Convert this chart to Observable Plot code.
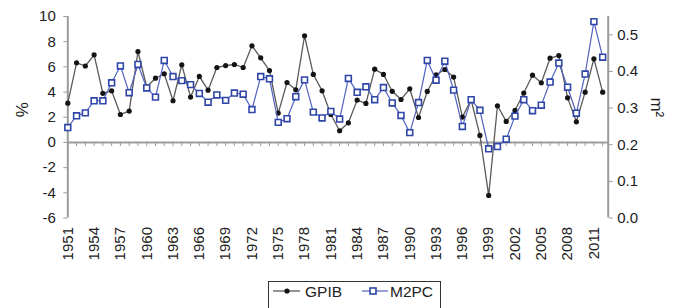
<!DOCTYPE html>
<html><head><meta charset="utf-8">
<script src="https://cdn.jsdelivr.net/npm/d3@7"></script>
<script src="https://cdn.jsdelivr.net/npm/@observablehq/plot@0.6"></script>
<style>
body{margin:0;background:#fff;font-family:"Liberation Sans",Arial,sans-serif;}
#wrap{position:relative;width:673px;height:308px;overflow:hidden;}
#legend{position:absolute;left:268px;top:281px;}
</style></head><body><div id="wrap"><div id="chart"></div><div id="legend"></div></div>
<script>
const years = [1951,1952,1953,1954,1955,1956,1957,1958,1959,1960,1961,1962,1963,1964,1965,1966,1967,1968,1969,1970,
1971,1972,1973,1974,1975,1976,1977,1978,1979,1980,1981,1982,1983,1984,1985,1986,1987,1988,1989,1990,
1991,1992,1993,1994,1995,1996,1997,1998,1999,2000,2001,2002,2003,2004,2005,2006,2007,2008,2009,2010,2011,2012];
const gpib = [3.12,6.32,6.07,6.96,3.90,4.10,2.22,2.49,7.22,4.40,5.10,5.45,3.31,6.17,3.60,5.24,4.15,5.95,6.10,6.19,
5.95,7.67,6.72,5.71,2.33,4.76,4.18,8.47,5.40,4.10,2.22,0.93,1.56,3.36,3.10,5.82,5.40,4.06,3.41,4.26,
1.98,4.05,5.37,5.79,5.19,2.01,3.39,0.56,-4.21,2.91,1.67,2.54,3.92,5.34,4.74,6.69,6.90,3.54,1.64,3.99,6.64,3.99];
const m2pc = [0.247,0.279,0.287,0.320,0.320,0.369,0.415,0.342,0.419,0.355,
0.330,0.430,0.386,0.375,0.364,0.340,0.316,0.336,0.321,0.341,
0.338,0.296,0.386,0.380,0.261,0.271,0.331,0.377,0.289,0.273,
0.291,0.270,0.381,0.343,0.358,0.323,0.356,0.314,0.280,0.233,
0.315,0.430,0.376,0.428,0.349,0.250,0.323,0.294,0.189,0.195,
0.215,0.278,0.323,0.293,0.308,0.371,0.423,0.357,0.286,0.393,
0.536,0.439];
const leftTicks = [-6,-4,-2,0,2,4,6,8,10];
const rightTicks = [0,0.1,0.2,0.3,0.4,0.5];
const yearLabels = [1951,1954,1957,1960,1963,1966,1969,1972,1975,1978,1981,1984,1987,1990,1993,1996,1999,2002,2005,2008,2011];
const seriesNames = ["GPIB","M2PC"];

const leftDomain = [-6, 10];
const rightDomain = [0, 0.55];
const xEnd = 2012.63;
const toLeft = m => leftDomain[0] + (m - rightDomain[0]) / (rightDomain[1] - rightDomain[0]) * (leftDomain[1] - leftDomain[0]);
const fromLeft = v => rightDomain[0] + (v - leftDomain[0]) / (leftDomain[1] - leftDomain[0]) * (rightDomain[1] - rightDomain[0]);

const data = years.map((year, i) => ({year, gpib: gpib[i], m2pc: m2pc[i]}));
const gray = "#9b9b9b";
const ink = "#222";
const blackLine = "#5a5a5a", blackDot = "#141414";
const blueLine = "#5062c0", blueSq = "#2f46a8";

const chart = Plot.plot({
  width: 673, height: 275,
  marginLeft: 67.3, marginRight: 65.3, marginTop: 16, marginBottom: 57.5,
  style: {fontFamily: "'Liberation Sans', Arial, sans-serif", fontSize: "15px", color: ink, background: "#fff"},
  x: {domain: [years[0], xEnd]},
  y: {domain: leftDomain},
  marks: [
    Plot.ruleY([0], {stroke: gray, strokeWidth: 2}),
    Plot.ruleX(years.slice(1), {x: d => d, y1: 0, y2: -0.33, stroke: gray, strokeWidth: 1}),
    Plot.ruleX([years[0]], {y1: leftDomain[0], y2: leftDomain[1], stroke: gray, strokeWidth: 2}),
    Plot.ruleX([xEnd], {y1: leftDomain[0], y2: leftDomain[1], stroke: gray, strokeWidth: 2}),
    Plot.axisY({anchor: "left", ticks: leftTicks, tickFormat: d => String(d), tickSize: 4, tickPadding: 8, stroke: gray, fill: ink, fontSize: 15, label: null}),
    Plot.axisY({anchor: "right", ticks: rightTicks.map(toLeft), tickFormat: v => fromLeft(v).toFixed(1), tickSize: 4, tickPadding: 5, stroke: gray, fill: ink, fontSize: 15, label: null}),
    Plot.axisX({ticks: yearLabels, tickFormat: d => String(d), tickRotate: -90, tickSize: 0, tickPadding: 9, fill: ink, fontSize: 15, label: null}),
    Plot.text(["%"], {text: d => d, frameAnchor: "left", dx: -45, rotate: -90, fontSize: 17, fill: ink}),
    Plot.text(["m²"], {text: d => d, frameAnchor: "right", dx: 48, rotate: 90, fontSize: 17, fill: ink}),
    Plot.line(data, {x: "year", y: "gpib", stroke: blackLine, strokeWidth: 1.3}),
    Plot.dot(data, {x: "year", y: "gpib", r: 2.6, fill: blackDot, stroke: "none"}),
    Plot.line(data, {x: "year", y: d => toLeft(d.m2pc), stroke: blueLine, strokeWidth: 1.2}),
    Plot.dot(data, {x: "year", y: d => toLeft(d.m2pc), symbol: "square", r: 3.3, fill: "white", stroke: blueSq, strokeWidth: 1.6})
  ]
});
document.getElementById("chart").appendChild(chart);

// legend
const lg = d3.select("#legend").append("svg").attr("width", 174).attr("height", 27)
  .style("font-family", "'Liberation Sans', Arial, sans-serif");
lg.append("rect").attr("x", 0.5).attr("y", 0.5).attr("width", 172).attr("height", 30).attr("fill", "#fff").attr("stroke", "#333");
lg.append("line").attr("x1", 5).attr("x2", 32).attr("y1", 10).attr("y2", 10).attr("stroke", blackLine).attr("stroke-width", 1.3);
lg.append("circle").attr("cx", 19).attr("cy", 10).attr("r", 2.6).attr("fill", blackDot);
lg.append("text").attr("x", 37).attr("y", 16).attr("font-size", 15.5).attr("fill", ink).text(seriesNames[0]);
lg.append("line").attr("x1", 94).attr("x2", 120).attr("y1", 10).attr("y2", 10).attr("stroke", blueLine).attr("stroke-width", 1.2);
lg.append("rect").attr("x", 102).attr("y", 7).attr("width", 6).attr("height", 6).attr("fill", "#fff").attr("stroke", blueSq).attr("stroke-width", 1.6);
lg.append("text").attr("x", 122).attr("y", 16).attr("font-size", 15.5).attr("fill", ink).text(seriesNames[1]);
</script></body></html>
